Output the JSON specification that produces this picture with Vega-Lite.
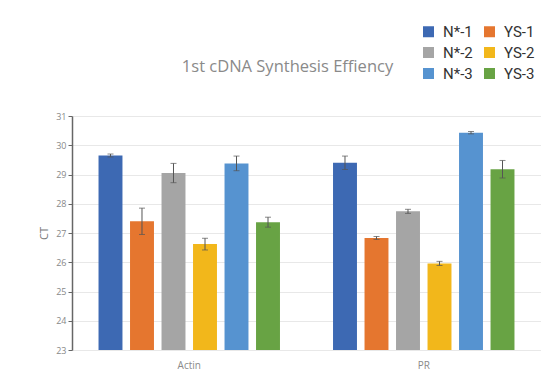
{
  "$schema": "https://vega.github.io/schema/vega-lite/v6.json",
  "autosize": {"type": "none"},
  "padding": {"left": 72, "top": 116, "right": 0, "bottom": 29},
  "width": 469,
  "height": 234,
  "background": "white",
  "title": {
    "text": "1st cDNA Synthesis Effiency",
    "anchor": "middle",
    "frame": "group",
    "dx": -19,
    "offset": -64,
    "baseline": "alphabetic",
    "font": "Open Sans",
    "fontSize": 16.5,
    "fontWeight": "normal",
    "color": "#8a8a8a"
  },
  "data": {
    "values": [
      {"gene": "Actin", "sample": "N*-1", "ct": 29.65, "lo": 29.6, "hi": 29.7},
      {"gene": "Actin", "sample": "YS-1", "ct": 27.4, "lo": 26.95, "hi": 27.85},
      {"gene": "Actin", "sample": "N*-2", "ct": 29.05, "lo": 28.72, "hi": 29.38},
      {"gene": "Actin", "sample": "YS-2", "ct": 26.62, "lo": 26.42, "hi": 26.82},
      {"gene": "Actin", "sample": "N*-3", "ct": 29.38, "lo": 29.13, "hi": 29.63},
      {"gene": "Actin", "sample": "YS-3", "ct": 27.37, "lo": 27.2, "hi": 27.54},
      {"gene": "PR", "sample": "N*-1", "ct": 29.4, "lo": 29.17, "hi": 29.63},
      {"gene": "PR", "sample": "YS-1", "ct": 26.83, "lo": 26.78, "hi": 26.88},
      {"gene": "PR", "sample": "N*-2", "ct": 27.74, "lo": 27.67, "hi": 27.81},
      {"gene": "PR", "sample": "YS-2", "ct": 25.96, "lo": 25.89, "hi": 26.03},
      {"gene": "PR", "sample": "N*-3", "ct": 30.43, "lo": 30.39, "hi": 30.47},
      {"gene": "PR", "sample": "YS-3", "ct": 29.18, "lo": 28.88, "hi": 29.48}
    ]
  },
  "encoding": {
    "x": {
      "field": "gene",
      "type": "nominal",
      "scale": {"paddingInner": 0.194, "paddingOuter": 0.097},
      "axis": {
        "title": null,
        "labelAngle": 0,
        "domain": false,
        "ticks": false,
        "labelPadding": 10,
        "labelFontSize": 10,
        "labelColor": "#8a8a8a",
        "labelFont": "Open Sans"
      }
    },
    "xOffset": {
      "field": "sample",
      "type": "nominal",
      "scale": {"domain": ["N*-1", "YS-1", "N*-2", "YS-2", "N*-3", "YS-3"], "paddingInner": 0.24, "paddingOuter": 0.12}
    }
  },
  "layer": [
    {
      "mark": {"type": "bar", "clip": true},
      "encoding": {
        "y": {
          "field": "ct",
          "type": "quantitative",
          "scale": {"domain": [23, 31], "zero": false, "nice": false},
          "axis": {"title": "CT", "values": [23, 24, 25, 26, 27, 28, 29, 30, 31], "labelOverlap": false}
        },
        "color": {
          "field": "sample",
          "type": "nominal",
          "scale": {
            "domain": ["N*-1", "N*-2", "N*-3", "YS-1", "YS-2", "YS-3"],
            "range": ["#3d69b3", "#a5a5a5", "#5693d0", "#e5762f", "#f2b71b", "#68a344"]
          },
          "legend": {
            "title": null,
            "orient": "none",
            "legendX": 349,
            "legendY": -92,
            "columns": 2,
            "symbolType": "square",
            "symbolSize": 121,
            "symbolStrokeWidth": 0,
            "labelFont": "Roboto",
            "labelFontSize": 15,
            "labelColor": "#333333",
            "labelOffset": 7,
            "rowPadding": 5,
            "columnPadding": 9
          }
        }
      }
    },
    {
      "mark": {"type": "rule", "color": "#555555", "strokeWidth": 1},
      "encoding": {
        "y": {"field": "lo", "type": "quantitative", "axis": {"title": "CT", "values": [23, 24, 25, 26, 27, 28, 29, 30, 31], "labelOverlap": false}},
        "y2": {"field": "hi"}
      }
    },
    {
      "mark": {"type": "tick", "color": "#555555", "thickness": 1, "size": 6},
      "encoding": {
        "y": {"field": "hi", "type": "quantitative", "axis": {"title": "CT", "values": [23, 24, 25, 26, 27, 28, 29, 30, 31], "labelOverlap": false}}
      }
    },
    {
      "mark": {"type": "tick", "color": "#555555", "thickness": 1, "size": 6},
      "encoding": {
        "y": {"field": "lo", "type": "quantitative", "axis": {"title": "CT", "values": [23, 24, 25, 26, 27, 28, 29, 30, 31], "labelOverlap": false}}
      }
    }
  ],
  "config": {
    "view": {"stroke": null},
    "axisY": {
      "domainColor": "#666666",
      "domainWidth": 1.5,
      "tickColor": "#666666",
      "tickSize": 4,
      "gridColor": "#e8e8e8",
      "labelFontSize": 9,
      "labelColor": "#888888",
      "labelFont": "Open Sans",
      "labelPadding": 2,
      "labelOverlap": false,
      "titleFont": "Open Sans",
      "titleFontSize": 11,
      "titleFontWeight": "normal",
      "titleColor": "#777777",
      "titlePadding": 6
    }
  }
}
